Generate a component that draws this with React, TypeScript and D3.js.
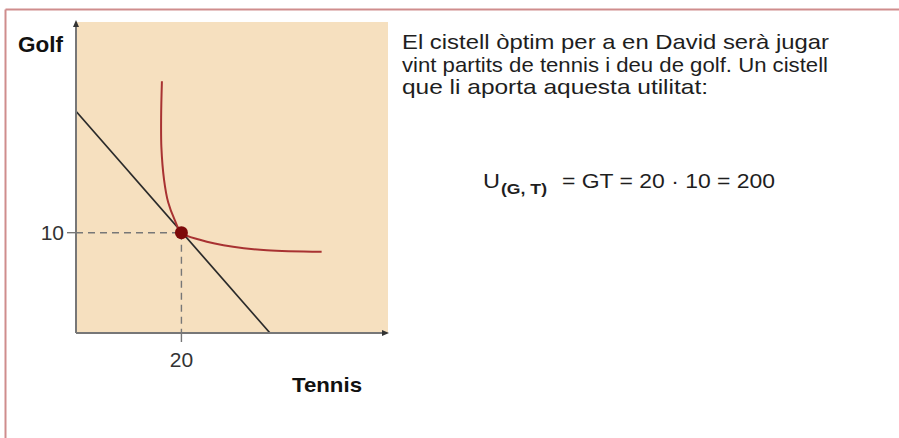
import React from "react";
import * as d3 from "d3";

// tennis matches (x) vs golf matches (y)
const tennisTicks = [20];
const golfTicks = [10];
const optimum = { t: 20, g: 10 };

const budgetLine = [
  { t: 0, g: 22.1 },
  { t: 36.8, g: 0 },
];

const indifferenceCurve = [
  { t: 16.3, g: 25.1 },
  { t: 16.15, g: 21.5 },
  { t: 16.2, g: 18.5 },
  { t: 16.7, g: 15.3 },
  { t: 17.5, g: 13.0 },
  { t: 18.7, g: 11.3 },
  { t: 20, g: 10 },
  { t: 23.5, g: 9.3 },
  { t: 29.8, g: 8.6 },
  { t: 36.2, g: 8.25 },
  { t: 46.6, g: 8.1 },
];

const paragraph = [
  "El cistell òptim per a en David serà jugar",
  "vint partits de tennis i deu de golf. Un cistell",
  "que li aporta aquesta utilitat:",
];
const paragraphWidths = [427, 426, 306];

const formulaMain = "U";
const formulaSub = "(G, T)";
const formulaRest = "= GT = 20 · 10 = 200";

export default function App() {
  const width = 899;
  const height = 438;
  const plot = { left: 76, right: 387, top: 22, bottom: 333 };

  const x = d3.scaleLinear().domain([0, 59]).range([plot.left, plot.right]);
  const y = d3.scaleLinear().domain([0, 31]).range([plot.bottom, plot.top]);

  const line = d3
    .line<{ t: number; g: number }>()
    .x((d) => x(d.t))
    .y((d) => y(d.g));

  const curve = d3
    .line<{ t: number; g: number }>()
    .x((d) => x(d.t))
    .y((d) => y(d.g))
    .curve(d3.curveCatmullRom.alpha(0.5));

  const font = "Arial, 'Liberation Sans', Helvetica, sans-serif";
  const axisColor = "#777";

  return (
    <svg
      width={width}
      height={height}
      style={{ position: "absolute", left: 0, top: 0, background: "#fff" }}
      fontFamily={font}
    >
      {/* frame */}
      <line x1={5.5} y1={9.5} x2={width} y2={9.5} stroke="#cf8d8d" strokeWidth={2} />
      <line x1={5.5} y1={9.5} x2={5.5} y2={height} stroke="#cf8d8d" strokeWidth={2} />

      {/* plot background */}
      <rect
        x={plot.left}
        y={plot.top}
        width={plot.right - plot.left + 1}
        height={plot.bottom - plot.top}
        fill="#f6e0bf"
      />

      {/* guides to the optimum */}
      {golfTicks.map((g) => (
        <g key={"g" + g}>
          <line x1={plot.left - 9} x2={plot.left} y1={y(g)} y2={y(g)} stroke={axisColor} strokeWidth={1.4} />
          <line
            x1={plot.left}
            x2={x(optimum.t)}
            y1={y(g)}
            y2={y(g)}
            stroke={axisColor}
            strokeWidth={1.4}
            strokeDasharray="7,5"
          />
          <text x={plot.left - 12} y={y(g) + 7.5} textAnchor="end" fontSize={21} fill="#333">
            {g}
          </text>
        </g>
      ))}
      {tennisTicks.map((t) => (
        <g key={"t" + t}>
          <line
            x1={x(t)}
            x2={x(t)}
            y1={y(optimum.g)}
            y2={plot.bottom}
            stroke={axisColor}
            strokeWidth={1.4}
            strokeDasharray="7,5"
          />
          <line x1={x(t)} x2={x(t)} y1={plot.bottom} y2={plot.bottom + 9} stroke={axisColor} strokeWidth={1.4} />
          <text x={x(t)} y={plot.bottom + 34} textAnchor="middle" fontSize={21} fill="#333">
            {t}
          </text>
        </g>
      ))}

      {/* budget line */}
      <path d={line(budgetLine) ?? ""} fill="none" stroke="#2a2a2a" strokeWidth={1.7} />

      {/* indifference curve */}
      <path d={curve(indifferenceCurve) ?? ""} fill="none" stroke="#a83232" strokeWidth={2} />

      {/* axes */}
      <line x1={plot.left} y1={plot.bottom} x2={plot.left} y2={plot.top + 2} stroke={axisColor} strokeWidth={2} />
      <line x1={plot.left} y1={plot.bottom} x2={plot.right - 2} y2={plot.bottom} stroke={axisColor} strokeWidth={2} />
      <path
        d={`M${plot.left - 3},${plot.top + 5} L${plot.left},${plot.top - 2} L${plot.left + 3},${plot.top + 5} Z`}
        fill="#333"
      />
      <path
        d={`M${plot.right - 5},${plot.bottom - 3} L${plot.right + 2},${plot.bottom} L${plot.right - 5},${plot.bottom + 3} Z`}
        fill="#333"
      />

      {/* optimum basket */}
      <circle cx={x(optimum.t)} cy={y(optimum.g)} r={6.5} fill="#7d0a0a" />

      {/* axis titles */}
      <text x={18} y={52} fontSize={22} fontWeight="bold" fill="#111" textLength={45} lengthAdjust="spacingAndGlyphs">
        Golf
      </text>
      <text x={292} y={392} fontSize={21} fontWeight="bold" fill="#111" textLength={70} lengthAdjust="spacingAndGlyphs">
        Tennis
      </text>

      {/* explanation */}
      {paragraph.map((s, i) => (
        <text
          key={i}
          x={402}
          y={49 + i * 22.5}
          fontSize={21}
          fill="#1e1e1e"
          textLength={paragraphWidths[i]}
          lengthAdjust="spacingAndGlyphs"
        >
          {s}
        </text>
      ))}

      <text x={483} y={188} fontSize={21} fill="#1e1e1e" textLength={17} lengthAdjust="spacingAndGlyphs">
        {formulaMain}
      </text>
      <text
        x={501}
        y={194}
        fontSize={14}
        fontWeight="bold"
        fill="#1e1e1e"
        textLength={46}
        lengthAdjust="spacingAndGlyphs"
      >
        {formulaSub}
      </text>
      <text x={562} y={188} fontSize={21} fill="#1e1e1e" textLength={213} lengthAdjust="spacingAndGlyphs">
        {formulaRest}
      </text>
    </svg>
  );
}
